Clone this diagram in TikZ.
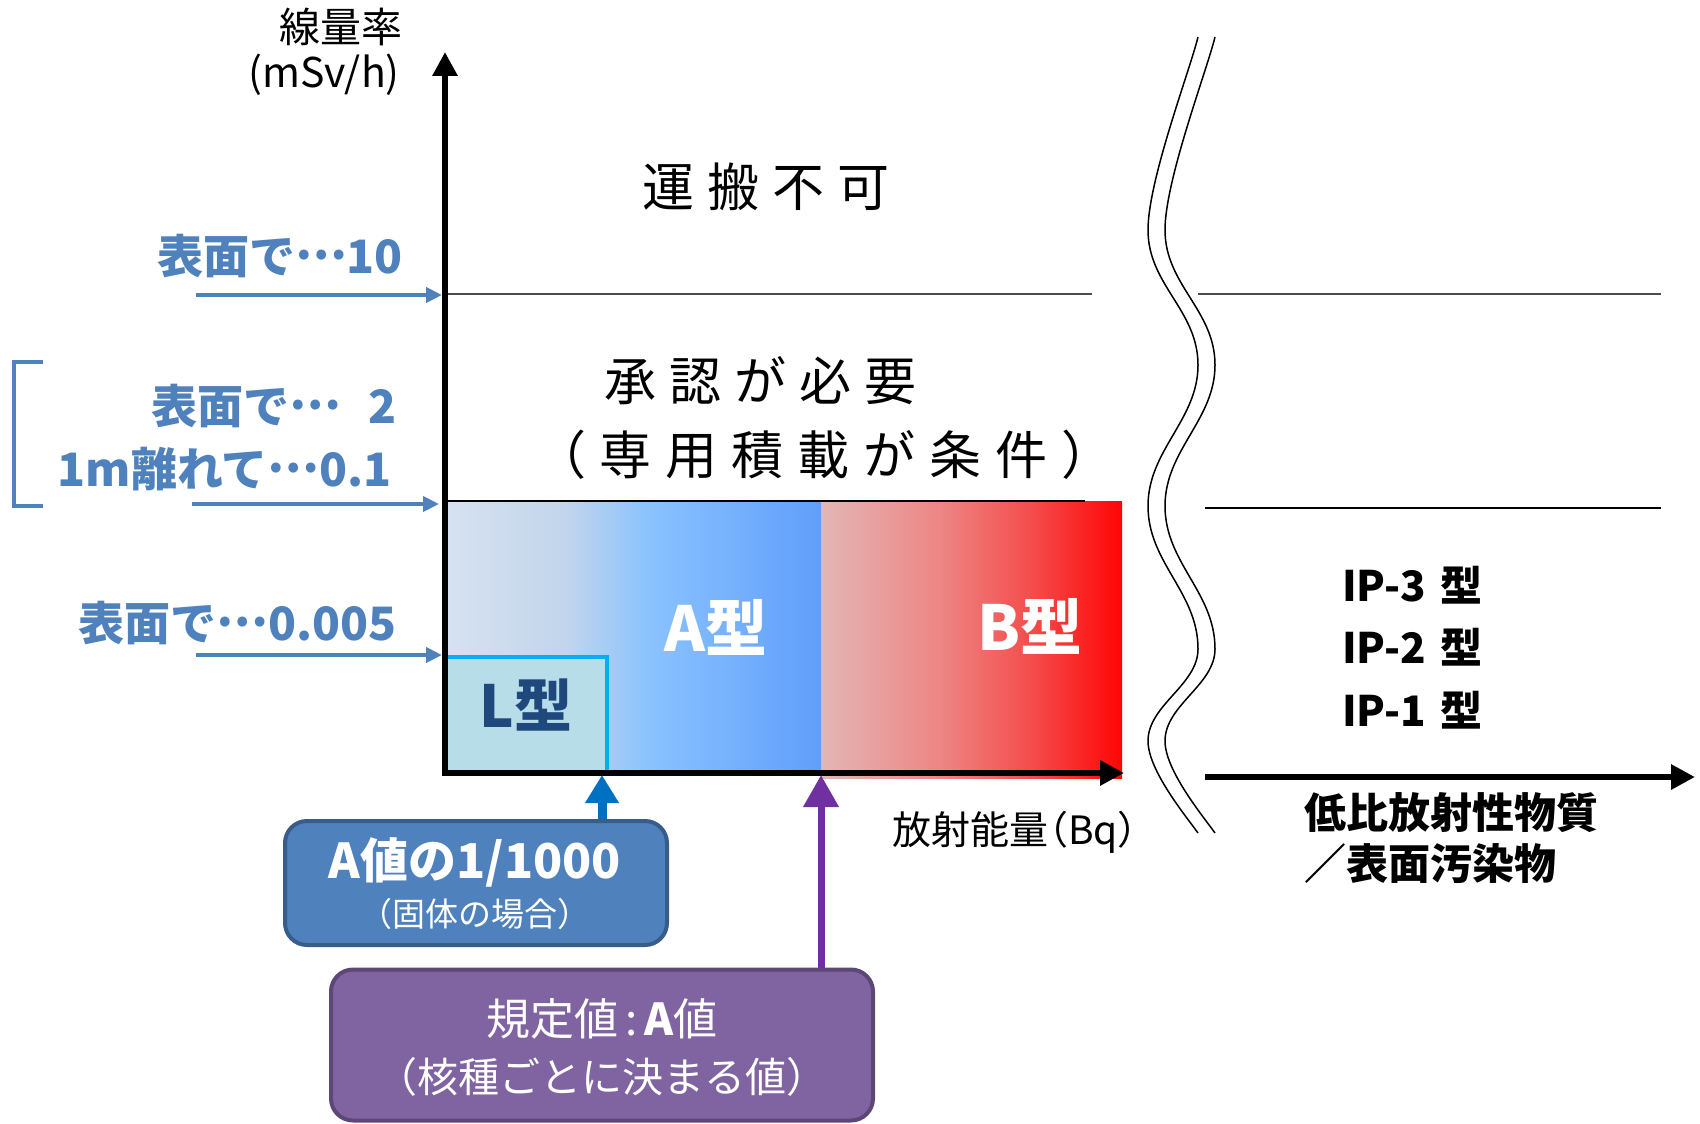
\documentclass[tikz,border=0pt]{standalone}
\usepackage{fontspec}
\newfontfamily\cjk{Noto Sans CJK JP}
\usetikzlibrary{arrows.meta}
\definecolor{lblue}{HTML}{4F81BD}
\definecolor{bblue}{HTML}{385D8A}
\definecolor{arblue}{HTML}{0070C0}
\definecolor{purp}{HTML}{8064A2}
\definecolor{purpb}{HTML}{5C4776}
\definecolor{arpurp}{HTML}{7030A0}
\definecolor{lfill}{HTML}{B7DEE8}
\definecolor{lborder}{HTML}{00B0F0}
\definecolor{lnavy}{HTML}{1F497D}
\definecolor{ca0}{HTML}{D7E2F0}
\definecolor{ca1}{HTML}{C2D5EC}
\definecolor{ca2}{HTML}{8AC3FE}
\definecolor{ca3}{HTML}{609EFA}
\definecolor{cb0}{HTML}{E4B6B6}
\definecolor{cb1}{HTML}{ED8584}
\definecolor{cb2}{HTML}{F44C4C}
\definecolor{cb3}{HTML}{FF0505}
\pgfdeclarehorizontalshading{ashade}{100bp}{color(0bp)=(ca0); color(25bp)=(ca0); color(41bp)=(ca1); color(52bp)=(ca2); color(75bp)=(ca3); color(100bp)=(ca3)}
\pgfdeclarehorizontalshading{bshade}{100bp}{color(0bp)=(cb0); color(25bp)=(cb0); color(45bp)=(cb1); color(60bp)=(cb2); color(75bp)=(cb3); color(100bp)=(cb3)}
\newcommand\lpar{\makebox[0.5em][r]{（}}
\newcommand\rpar{\makebox[0.5em][l]{）}}
\newcommand\mdots{\raisebox{0.3em}{…}}
\begin{document}
\begin{tikzpicture}[x=1pt,y=-1pt,
  txt/.style={inner sep=0pt, font=\cjk\fontsize{#1}{#1}\selectfont},
  btxt/.style={inner sep=0pt, font=\cjk\bfseries\fontsize{#1}{#1}\selectfont},
  lbl/.style={btxt=46, text=lblue, anchor=east},
  lvlarrow/.style={lblue, line width=4pt, -{Triangle[length=16pt,width=15pt]}},
  axisline/.style={line width=6pt},
  wave/.style={line width=1.5pt},
  rbox/.style={rounded corners=22pt, line width=4pt, inner sep=0pt}]
\useasboundingbox (0,0) rectangle (1700,1124);

% gradient regions
\shade[shading=ashade] (445,501) rectangle (821,773);
\shade[shading=bshade] (821,501) rectangle (1122,778);
% L box
\fill[lfill] (445,657) rectangle (607,773);
\draw[lborder, line width=4pt] (447,657) -| (607,773);

% level lines
\draw[line width=1.5pt, black!70] (445,294) -- (1092,294);
\draw[line width=1.2pt] (445,501) -- (1085,501);
\draw[line width=1.5pt, black!70] (1198,294) -- (1661,294);
\draw[line width=1.2pt] (1205,508) -- (1661,508);

% axes
\coordinate (O) at (445,773);
\coordinate (ytop) at (445,52);
\coordinate (xend) at (1124,773);
\coordinate (ybot) at (445,776);
\coordinate (xbeg) at (442,773);
\draw[axisline, -{Triangle[length=24pt,width=24pt]}] (ybot) -- (ytop);
\draw[axisline, -{Triangle[length=24pt,width=24pt]}] (xbeg) -- (xend);
\coordinate (r0) at (1205,777);
\coordinate (r1) at (1695,777);
\draw[axisline, -{Triangle[length=24pt,width=24pt]}] (r0) -- (r1);

% axis labels
\node[txt=41] (yl1) at (341,27) {線量率};
\node[txt=41] (yl2) at (324,75) {(mSv/h)};
\node[txt=39] (xl) at (1015,832) {放射能量\lpar Bq\rpar};

% region texts
\node[txt=52] (t1) at (766,187) {運\hspace{13pt}搬\hspace{13pt}不\hspace{13pt}可};
\node[txt=52] (t2) at (760,381) {承\hspace{13pt}認\hspace{13pt}が\hspace{13pt}必\hspace{13pt}要};
\node[txt=52] (t3) at (824,455) {（\hspace{14pt}専\hspace{14pt}用\hspace{14pt}積\hspace{14pt}載\hspace{14pt}が\hspace{14pt}条\hspace{14pt}件\hspace{14pt}）};

\node[btxt=62, text=white] (at) at (716,627) {A型};
\node[btxt=62, text=white] (bt) at (1030,626) {B型};
\node[btxt=58, text=lnavy] (lt) at (526,705) {L型};

% level labels
\node[lbl] (l10) at (403,256) {表面で\mdots 10};
\node[lbl] (l2) at (397,406) {表面で\mdots\hspace{28pt}2};
\node[lbl] (l01) at (392,469) {1m離れて\mdots 0.1};
\node[lbl] (l005) at (397,623) {表面で\mdots 0.005};
\coordinate (a10s) at (196,295); \coordinate (a10e) at (442,295);
\coordinate (a2s) at (192,504); \coordinate (a2e) at (439,504);
\coordinate (a3s) at (196,655); \coordinate (a3e) at (442,655);
\draw[lvlarrow] (a10s) -- (a10e);
\draw[lvlarrow] (a2s) -- (a2e);
\draw[lvlarrow] (a3s) -- (a3e);
\draw[lblue, line width=4pt] (43,362) -- (14,362) -- (14,506) -- (43,506);

% boxes
\node[rbox, draw=bblue, fill=lblue, minimum width=382pt, minimum height=124pt] (bbox) at (476,883) {};
\node[btxt=48, text=white] (bb1) at (475,862) {A値の1/1000};
\node[txt=33, text=white] (bb2) at (475,914) {\lpar 固体の場合\rpar};
\node[rbox, draw=purpb, fill=purp, minimum width=542pt, minimum height=151pt] (pbox) at (602,1045) {};
\node[txt=44, text=white] (pb1) at (602,1019) {規定値\,:\,{\bfseries A}値};
\node[txt=41, text=white] (pb2) at (602,1077) {（核種ごとに決まる値）};

% pointer arrows
\coordinate (la) at (602,775);
\coordinate (pa) at (821,775);
\draw[arblue, line width=9pt, -{Triangle[length=28pt,width=32pt]}] (bbox.north -| la) -- (la);
\draw[arpurp, line width=7pt, -{Triangle[length=32pt,width=34pt]}] (pbox.north -| pa) -- (pa);

% break mark
\foreach \dx in {0,17} {
\begin{scope}[xshift=\dx pt]
\draw[wave] (1198,37) .. controls (1190,70) and (1148,180) .. (1148,230)
  .. controls (1148,285) and (1198,310) .. (1198,365)
  .. controls (1198,420) and (1148,450) .. (1148,506)
  .. controls (1148,563) and (1198,592) .. (1198,649)
  .. controls (1198,685) and (1148,705) .. (1148,741)
  .. controls (1148,770) and (1185,815) .. (1198,833);
\end{scope}}

% right side texts
\node[btxt=42, anchor=west] (ip3) at (1342,585) {IP-3\hspace{14pt}型};
\node[btxt=42, anchor=west] (ip2) at (1342,647) {IP-2\hspace{14pt}型};
\node[btxt=42, anchor=west] (ip1) at (1342,710) {IP-1\hspace{14pt}型};
\node[btxt=42, anchor=west] (low1) at (1304,813) {低比放射性物質};
\node[btxt=42, anchor=west] (low2) at (1304,864) {／表面汚染物};
\end{tikzpicture}
\end{document}
